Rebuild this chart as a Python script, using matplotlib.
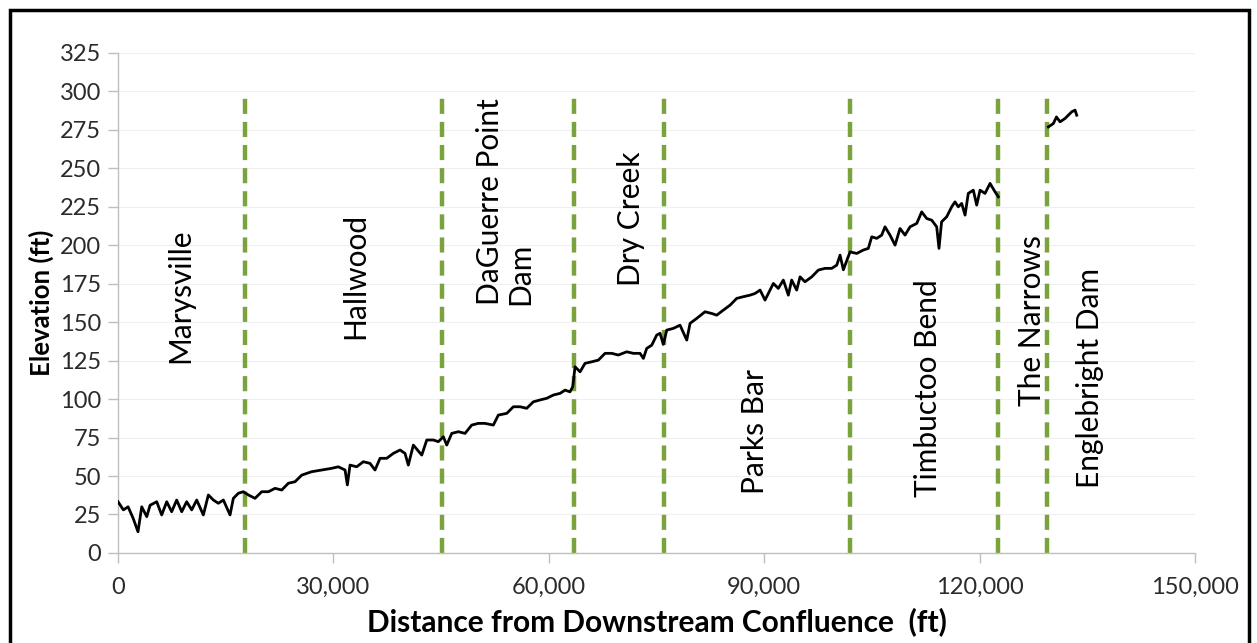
import numpy as np
import matplotlib.pyplot as plt
from matplotlib.patches import Rectangle
from matplotlib.ticker import FuncFormatter, MultipleLocator

# longitudinal profile (ft)
dist_lower = [0, 740, 1400, 2090, 2780, 3300, 4000, 4460, 5390, 6080, 6780, 7470,
              8170, 8870, 9560, 10260, 10960, 11880, 12580, 13280, 13970, 14670,
              15600, 16060, 16760, 17450, 18150, 19080, 20010, 20940, 21870, 22800,
              23720, 24650, 25590, 26970, 28370, 29760, 30690, 31620, 31940, 32310,
              33240, 34170, 35100, 35790, 36490, 37420, 38340, 39280, 39970, 40430,
              41130, 41700, 42300, 43000, 43920, 44610, 45310, 45780, 46480, 47400,
              48330, 49260, 50180, 51100, 52270, 52970, 54140, 55060, 55990, 56920,
              57840, 58770, 59710, 60630, 61560, 62260, 62950, 63330, 63650, 64350,
              65040, 65970, 66900, 67830, 68760, 69680, 70850, 71770, 72700, 73170,
              73630, 74330, 75030, 75490, 75950, 76420, 77340, 78270, 79210, 79670,
              80600, 81750, 82690, 83380, 84310, 85240, 86170, 87090, 88020, 88720,
              89420, 90110, 90810, 91270, 91960, 92660, 93360, 93820, 94520, 94990,
              95680, 96620, 97540, 98470, 99400, 100100, 100560, 101020, 101500,
              101950, 102880, 103800, 104500, 104970, 105670, 106360, 106820, 107520,
              108220, 108910, 109610, 110310, 111240, 111930, 112630, 113330, 114020,
              114340, 114700, 115410, 116110, 116570, 117030, 117500, 117970, 118420,
              119120, 119590, 120060, 120750, 121450, 122150, 122600]
elev_lower = [33.3, 28, 30, 22.7, 13.8, 30, 23.6, 31, 33.3, 24.7, 33.3, 26.8,
              34.4, 26.8, 33.3, 28, 34.4, 24.7, 37.7, 34.4, 32.3, 34.4,
              24.7, 35.5, 38.8, 39.8, 37.7, 35.5, 39.8, 39.8, 42, 40.9,
              45.3, 46.3, 50.6, 52.8, 53.9, 55, 56, 53.9, 44.2, 57.1,
              56, 59.3, 58.2, 53.9, 61.5, 61.5, 64.7, 66.9, 64.7, 57.1,
              70.1, 66.9, 63.6, 73.4, 73.4, 72.3, 75.5, 70.1, 77.7, 78.8,
              77.7, 83.1, 84.2, 84.2, 83.1, 89.6, 90.7, 95, 95, 94,
              98.2, 99.4, 100.5, 102.6, 103.7, 105.8, 104.7, 108, 121, 117.7,
              123.2, 124.2, 125.3, 129.7, 129.7, 128.6, 130.7, 129.7, 129.7, 126.4,
              132.9, 135, 141.6, 142.7, 135.5, 144.8, 145.9, 148, 138.3, 149.2,
              152.4, 156.7, 155.6, 154.5, 157.8, 161, 165.4, 166.5, 167.5, 168.6,
              170.8, 164.3, 170.8, 175.1, 171.9, 177.3, 167.5, 177.3, 170.8, 179.4,
              176.2, 179.4, 183.8, 184.9, 184.9, 187, 193.5, 184, 190,
              195.6, 194.6, 196.8, 197.9, 205.4, 204.4, 206.5, 211.9, 206.5,
              200, 210.8, 206.5, 211.9, 214.1, 221.6, 217.3, 216.2, 211.9,
              197.9, 215.1, 218.4, 224.9, 228.1, 224.9, 227.1, 219.5, 233.6,
              235.7, 226, 235.7, 233.6, 240.1, 234.6, 231.4]

dist_upper = [129570, 130270, 130700, 131200, 131900, 132350, 132820, 133290, 133520]
elev_upper = [276.8, 279, 283.3, 280.1, 282.3, 284.4, 286.6, 287.7, 284.4]

# reach boundaries (ft)
boundaries = [17700, 45100, 63500, 76000, 102000, 122600, 129400]

reach_names = ['Marysville', 'Hallwood', 'DaGuerre Point\nDam', 'Dry Creek',
               'Parks Bar', 'Timbuctoo Bend', 'The Narrows', 'Englebright Dam']

plt.rcParams['font.family'] = ['Lato', 'DejaVu Sans']

fig = plt.figure(figsize=(12.57, 6.43), dpi=100)
ax = fig.add_axes([0.0939, 0.140, 0.8568, 0.778])

ax.plot(dist_lower, elev_lower, color='black', lw=2.0, zorder=3)
ax.plot(dist_upper, elev_upper, color='black', lw=2.0, zorder=3)

for b in boundaries:
    ax.plot([b, b], [0, 300], color='#7aa33d', lw=3.2,
            linestyle=(0, (3.4, 1.8)), zorder=2)

# label placement (data coords, centre of the rotated text)
label_pos = [(8600, 167), (33000, 180), (53900, 228), (71400, 217),
             (88700, 79), (112800, 107), (127300, 151), (135400, 114)]
for name, (lx, ly) in zip(reach_names, label_pos):
    ax.text(lx, ly, name, rotation=90, ha='center', va='center',
            multialignment='left', fontsize=21.5, color='black', linespacing=1.1)

ax.set_xlim(0, 150000)
ax.set_ylim(0, 325)
ax.xaxis.set_major_locator(MultipleLocator(30000))
ax.yaxis.set_major_locator(MultipleLocator(25))
ax.xaxis.set_major_formatter(FuncFormatter(lambda v, p: f'{int(v):,}'))

ax.yaxis.grid(True, color='#efefef', lw=0.8, zorder=0)
ax.set_axisbelow(True)

for side in ['top', 'right']:
    ax.spines[side].set_visible(False)
for side in ['left', 'bottom']:
    ax.spines[side].set_color('#bfbfbf')
    ax.spines[side].set_linewidth(1.0)

ax.tick_params(axis='both', colors='#bfbfbf', labelcolor='#2b2b2b',
               labelsize=17, length=7, width=1.0, direction='out')
ax.tick_params(axis='x', pad=10)
ax.tick_params(axis='y', pad=5)

ax.set_xlabel('Distance from Downstream Confluence  (ft)', fontsize=21.5,
              fontweight='bold', labelpad=7)
ax.set_ylabel('Elevation (ft)', fontsize=18.5, fontweight='bold', labelpad=4)

# outer frame around the figure
fig.patches.append(Rectangle((0.008, -0.02), 0.986, 1.004, transform=fig.transFigure,
                             fill=False, edgecolor='black', lw=2.5))

fig.savefig('out.png', dpi=100)
